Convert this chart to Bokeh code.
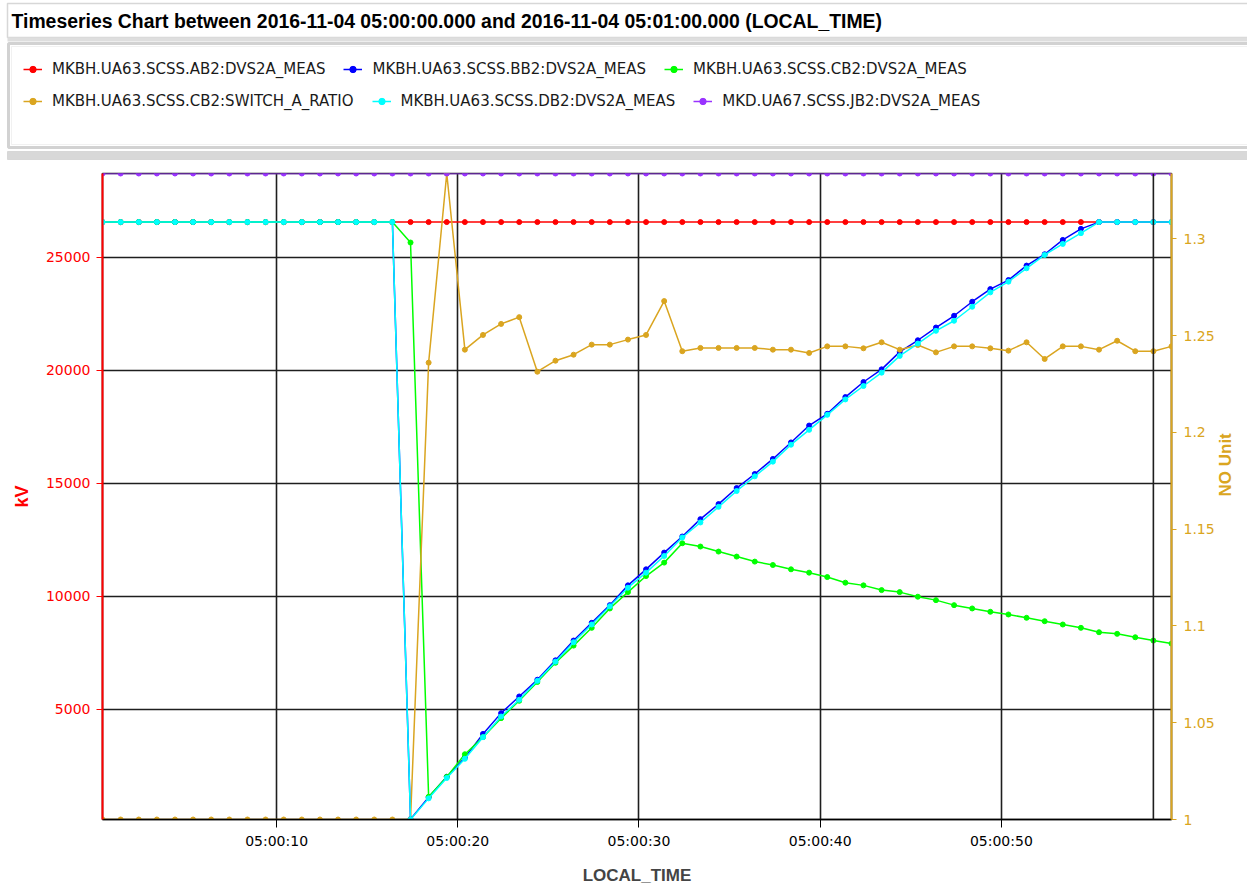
import math
import pandas as pd
from bokeh.plotting import figure
from bokeh.models import (ColumnDataSource, DataRange1d, Range1d, LinearAxis, Legend, LegendItem,
                          SingleIntervalTicker, NumeralTickFormatter, DatetimeTickFormatter,
                          Span, Label, BoxAnnotation)
from bokeh.embed import file_html
from bokeh.resources import INLINE

TITLE = "Timeseries Chart between 2016-11-04 05:00:00.000 and 2016-11-04 05:01:00.000 (LOCAL_TIME)"
SAMPLE_START = "2016-11-04 05:00:00.390"
N_SAMPLES = 60

NAMES = ["MKBH.UA63.SCSS.AB2:DVS2A_MEAS", "MKBH.UA63.SCSS.BB2:DVS2A_MEAS",
         "MKBH.UA63.SCSS.CB2:DVS2A_MEAS", "MKBH.UA63.SCSS.CB2:SWITCH_A_RATIO",
         "MKBH.UA63.SCSS.DB2:DVS2A_MEAS", "MKD.UA67.SCSS.JB2:DVS2A_MEAS"]

AB2 = [26550, 26550, 26550, 26550, 26550, 26550, 26550, 26550, 26550, 26550,
       26550, 26550, 26550, 26550, 26550, 26550, 26550, 26550, 26550, 26550,
       26550, 26550, 26550, 26550, 26550, 26550, 26550, 26550, 26550, 26550,
       26550, 26550, 26550, 26550, 26550, 26550, 26550, 26550, 26550, 26550,
       26550, 26550, 26550, 26550, 26550, 26550, 26550, 26550, 26550, 26550,
       26550, 26550, 26550, 26550, 26550, 26550, 26550, 26550, 26550, 26550]

BB2 = [26550, 26550, 26550, 26550, 26550, 26550, 26550, 26550, 26550, 26550,
       26550, 26550, 26550, 26550, 26550, 26550, 26550, 130, 1100, 2007,
       2851, 3903, 4822, 5559, 6301, 7158, 8033, 8818, 9600, 10475,
       11185, 11926, 12637, 13405, 14071, 14781, 15403, 16069, 16800, 17547,
       18067, 18808, 19474, 20034, 20806, 21321, 21885, 22405, 23026, 23586,
       23985, 24625, 25127, 25761, 26250, 26550, 26550, 26550, 26550, 26550]

CB2 = [26550, 26550, 26550, 26550, 26550, 26550, 26550, 26550, 26550, 26550,
       26550, 26550, 26550, 26550, 26550, 26550, 26550, 25646, 1120, 2000,
       3002, 3757, 4600, 5368, 6200, 7050, 7810, 8596, 9453, 10177,
       10887, 11482, 12339, 12193, 11971, 11749, 11527, 11376, 11185, 11038,
       10843, 10594, 10475, 10266, 10177, 9973, 9822, 9600, 9453, 9307,
       9187, 9040, 8889, 8743, 8596, 8401, 8330, 8179, 8033, 7899]

RATIO = [1.0, 1.0, 1.0, 1.0, 1.0, 1.0, 1.0, 1.0, 1.0, 1.0,
         1.0, 1.0, 1.0, 1.0, 1.0, 1.0, 1.0, 1.0, 1.236, 1.3337,
         1.2427, 1.2503, 1.2560, 1.2595, 1.2313, 1.2370, 1.2401, 1.2453, 1.2453, 1.2479,
         1.2503, 1.2678, 1.2419, 1.2436, 1.2436, 1.2436, 1.2436, 1.2427, 1.2427, 1.2410,
         1.2444, 1.2444, 1.2434, 1.2465, 1.2427, 1.2451, 1.2413, 1.2444, 1.2444, 1.2434,
         1.2422, 1.2465, 1.2379, 1.2444, 1.2444, 1.2427, 1.2473, 1.2419, 1.2419, 1.2444]

DB2 = [26550, 26550, 26550, 26550, 26550, 26550, 26550, 26550, 26550, 26550,
       26550, 26550, 26550, 26550, 26550, 26550, 26550, 115, 1050, 1950,
       2800, 3757, 4671, 5413, 6250, 7100, 7957, 8743, 9550, 10372,
       11038, 11775, 12592, 13258, 13950, 14650, 15300, 15950, 16700, 17357,
       18022, 18702, 19297, 19887, 20629, 21175, 21739, 22183, 22804, 23440,
       23914, 24505, 25097, 25584, 26059, 26550, 26550, 26550, 26550, 26550]

JB2 = [28700, 28700, 28700, 28700, 28700, 28700, 28700, 28700, 28700, 28700,
       28700, 28700, 28700, 28700, 28700, 28700, 28700, 28700, 28700, 28700,
       28700, 28700, 28700, 28700, 28700, 28700, 28700, 28700, 28700, 28700,
       28700, 28700, 28700, 28700, 28700, 28700, 28700, 28700, 28700, 28700,
       28700, 28700, 28700, 28700, 28700, 28700, 28700, 28700, 28700, 28700,
       28700, 28700, 28700, 28700, 28700, 28700, 28700, 28700, 28700, 28700]

MARKER_INDEX = 58  # vertical marker line at this sample

COLORS = ["#ff0000", "#0000ff", "#00ff00", "#daa520", "#00ffff", "#9933ff"]
GOLD = "#daa520"

times = pd.date_range(SAMPLE_START, periods=N_SAMPLES, freq="1s")
src = ColumnDataSource(dict(t=times, ab2=AB2, bb2=BB2, cb2=CB2, ratio=RATIO, db2=DB2, jb2=JB2))
cols = ["ab2", "bb2", "cb2", "ratio", "db2", "jb2"]

BOLDF = "Liberation Sans"
TICKF = "DejaVu Sans"
W = 1247
HEAD_H = 168

# ---------------- header: title + legend ----------------
head = figure(width=W, height=HEAD_H, x_range=Range1d(0, W), y_range=Range1d(HEAD_H, 0),
              output_backend="svg", toolbar_location=None, min_border=0,
              x_axis_location=None, y_axis_location=None, title=None,
              background_fill_color="white", border_fill_color="white")
head.grid.visible = False
head.outline_line_color = None

def box(l, r, t, b, **kw):
    head.add_layout(BoxAnnotation(left=l, right=r, top=t, bottom=b, level="underlay", **kw))

box(7, W + 2, 3, 37, fill_color="white", fill_alpha=1, line_color="#7c7c7c", line_width=1.5)
box(7, W + 2, 37, 41, fill_color="#dedede", fill_alpha=1, line_color=None)
box(8, W + 3, 43, 147, fill_color="white", fill_alpha=1, line_color="#6a6a6a", line_width=3)
box(11, W + 3, 46, 144, fill_alpha=0, line_color="#d0d0d0", line_width=1)
box(7, W + 2, 151, 159, fill_color="#d8d8d8", fill_alpha=1, line_color="#a8a8a8", line_width=1)
head.add_layout(Label(x=11, y=20, text=TITLE, text_baseline="alphabetic", text_font=BOLDF,
                      text_font_style="bold", text_font_size="19.4px", text_color="black"))

items = []
for name, col, color in zip(NAMES, cols, COLORS):
    # legend proxies: the real series, drawn outside the header's view
    lr = head.line("t", col, source=src, line_color=color, line_width=1.5)
    sr = head.scatter("t", col, source=src, size=5, fill_color=color, line_color=color)
    items.append(LegendItem(label=name, renderers=[lr, sr]))

def mk_legend(its, loc):
    return Legend(items=its, orientation="horizontal", location=loc, margin=0, padding=5,
                  spacing=18, glyph_width=19, glyph_height=16, label_standoff=10,
                  label_text_font=TICKF, label_text_font_size="15px", label_text_color="#1a1a1a",
                  border_line_alpha=0, background_fill_alpha=0)

head.add_layout(mk_legend(items[:3], (18, 85)), "center")
head.add_layout(mk_legend(items[3:], (18, 53)), "center")

# ---------------- main chart ----------------
p = figure(width=W, height=721, x_axis_type="datetime", output_backend="svg",
           toolbar_location=None, title=None,
           x_range=DataRange1d(range_padding=0), y_range=DataRange1d(range_padding=0),
           min_border_left=102, min_border_right=71, min_border_bottom=70, min_border_top=5,
           background_fill_color="white", border_fill_color="white")
p.extra_y_ranges = {"ratio": DataRange1d(range_padding=0)}

kv_r, ratio_r = [], []
for col, color in zip(cols, COLORS):
    rng = "ratio" if col == "ratio" else "default"
    l = p.line("t", col, source=src, line_color=color, line_width=1.5, y_range_name=rng)
    s = p.scatter("t", col, source=src, size=5, fill_color=color, line_color=color, y_range_name=rng)
    (ratio_r if col == "ratio" else kv_r).extend([l, s])
p.y_range.renderers = kv_r
p.extra_y_ranges["ratio"].renderers = ratio_r

# x axis
xt = SingleIntervalTicker(interval=10000, num_minor_ticks=0)
xa = p.xaxis[0]
xa.ticker = xt
xa.formatter = DatetimeTickFormatter(seconds="%H:%M:%S", minsec="%H:%M:%S",
                                     milliseconds="%H:%M:%S", minutes="%H:%M:%S")
xa.axis_label = "LOCAL_TIME"
xa.axis_label_text_font = BOLDF
xa.axis_label_text_font_style = "bold"
xa.axis_label_text_font_size = "17px"
xa.axis_label_standoff = 14
xa.axis_line_color = "black"
xa.axis_line_width = 1.5
xa.major_tick_out = 8
xa.major_tick_in = 0
xa.major_tick_line_color = "black"
xa.major_label_text_font = TICKF
xa.major_label_text_font_size = "14px"
xa.major_label_text_color = "black"
xa.major_label_standoff = 5

# left axis
yt = SingleIntervalTicker(interval=5000, num_minor_ticks=0)
ya = p.yaxis[0]
ya.ticker = yt
ya.formatter = NumeralTickFormatter(format="0")
ya.axis_label = "kV"
ya.axis_label_text_color = "#ff0000"
ya.axis_label_text_font = BOLDF
ya.axis_label_text_font_style = "bold"
ya.axis_label_text_font_size = "18px"
ya.axis_label_standoff = 11
ya.axis_line_color = "#ff0000"
ya.axis_line_width = 2
ya.major_tick_line_color = "#ff0000"
ya.major_tick_out = 6
ya.major_tick_in = 0
ya.major_label_text_color = "#ff0000"
ya.major_label_text_font = TICKF
ya.major_label_text_font_size = "14px"
ya.major_label_standoff = 6

# right axis
ra = LinearAxis(y_range_name="ratio",
                ticker=SingleIntervalTicker(interval=0.05, num_minor_ticks=0),
                formatter=NumeralTickFormatter(format="0.[00]"),
                axis_label="NO Unit", axis_label_text_color=GOLD,
                axis_label_text_font=BOLDF, axis_label_text_font_style="bold",
                axis_label_text_font_size="17px", axis_label_standoff=8,
                axis_label_orientation=math.pi / 2,
                axis_line_color=GOLD, axis_line_width=2,
                major_tick_line_color=GOLD, major_tick_out=5, major_tick_in=0,
                major_label_text_color=GOLD, major_label_text_font=TICKF,
                major_label_text_font_size="14px", major_label_standoff=7)
p.add_layout(ra, "right")

# grid
p.xgrid.ticker = xt
p.ygrid.ticker = yt
for g in (p.xgrid[0], p.ygrid[0]):
    g.grid_line_color = "#1e1e1e"
    g.grid_line_width = 1.6
p.outline_line_color = "#1e1e1e"
p.outline_line_width = 1.6

p.add_layout(Span(location=times[MARKER_INDEX].value / 1e6, dimension="height",
                  line_color="#1e1e1e", line_width=1.6))

open("out.html", "w").write(file_html([head, p], INLINE))
